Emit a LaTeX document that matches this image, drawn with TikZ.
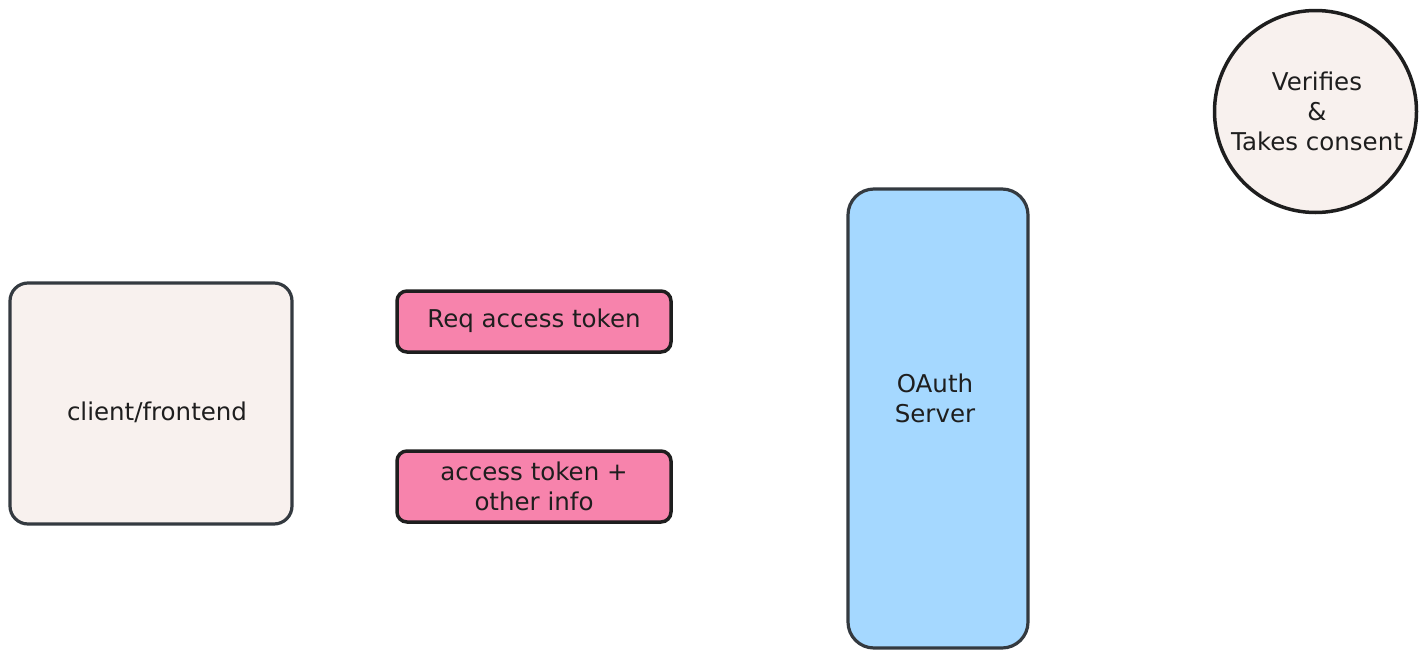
\documentclass[tikz,border=0pt]{standalone}
\usepackage{fontspec}
\setmainfont{DejaVu Sans}
\definecolor{ink}{HTML}{1E1E1E}
\definecolor{slate}{HTML}{343A40}
\definecolor{beige}{HTML}{F8F1EE}
\definecolor{pinkf}{HTML}{F783AC}
\definecolor{bluef}{HTML}{A5D8FF}
\tikzset{
  txt/.style={font=\fontsize{24.5}{30}\selectfont, text=ink, align=center},
  clientbox/.style={draw=slate, fill=beige, line width=3.2pt, rounded corners=18pt},
  pinkbox/.style={draw=ink, fill=pinkf, line width=3.5pt, rounded corners=10pt},
  serverbox/.style={draw=slate, fill=bluef, line width=3.2pt, rounded corners=26pt},
  consent/.style={draw=ink, fill=beige, line width=3.5pt, circle}
}
\begin{document}
\begin{tikzpicture}[x=1pt,y=-1pt]
\useasboundingbox (0,0) rectangle (1425,659);
\draw[clientbox] (10,283) rectangle (292,524);
\node[txt] (client) at (157,412) {client/frontend};
\draw[pinkbox] (397,291) rectangle (671,352);
\node[txt] (req) at (534,321) {Req access token};
\draw[pinkbox] (397,451) rectangle (671,522);
\node[txt] (resp) at (534,486) {access token +\\other info};
\draw[serverbox] (848,189) rectangle (1028,648);
\node[txt] (oauth) at (935,398) {OAuth\\Server};
\node[consent, minimum size=202pt, inner sep=0pt] (circ) at (1315.5,111.5) {};
\node[txt] (verif) at (1317,111) {Verifies\\\&\\Takes consent};
\end{tikzpicture}
\end{document}
